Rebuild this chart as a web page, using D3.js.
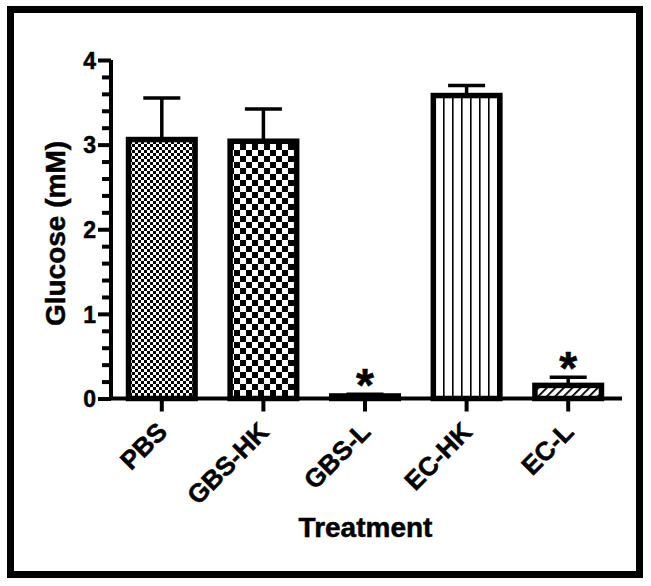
<!DOCTYPE html>
<html>
<head>
<meta charset="utf-8">
<script src="https://cdn.jsdelivr.net/npm/d3@7"></script>
<style>
  html, body { margin: 0; padding: 0; background: #fff; }
  svg { display: block; }
  text { font-family: Arial, "Liberation Sans", sans-serif; font-weight: bold; fill: #000; stroke: #000; stroke-width: 0.5px; }
</style>
</head>
<body>
<div id="chart"></div>
<script>
// ---- data ----
const categories = ["PBS", "GBS-HK", "GBS-L", "EC-HK", "EC-L"];
const means = [3.06, 3.04, 0.03, 3.58, 0.155];
const errors = [0.49, 0.38, 0.02, 0.12, 0.095];
const significant = [false, false, true, false, true];
const patterns = ["checkFine", "checkCoarse", "solid", "vlines", "diag"];
const yTicks = [0, 1, 2, 3, 4];
const yMinorTicks = [0.2, 0.4, 0.6, 0.8, 1.2, 1.4, 1.6, 1.8, 2.2, 2.4, 2.6, 2.8, 3.2, 3.4, 3.6, 3.8];
const yTitle = "Glucose (mM)";
const xTitle = "Treatment";

const W = 651, H = 586;
const svg = d3.select("#chart").append("svg").attr("width", W).attr("height", H);

// outer frame
svg.append("rect").attr("x", 10.5).attr("y", 9.5).attr("width", 629).attr("height", 565)
  .attr("fill", "#fff").attr("stroke", "#000").attr("stroke-width", 7);

// patterns
const defs = svg.append("defs");
const p1 = defs.append("pattern").attr("id", "checkFine").attr("patternUnits", "userSpaceOnUse")
  .attr("width", 6).attr("height", 6);
p1.append("rect").attr("width", 6).attr("height", 6).attr("fill", "#fff");
p1.append("rect").attr("width", 3).attr("height", 3).attr("fill", "#000");
p1.append("rect").attr("x", 3).attr("y", 3).attr("width", 3).attr("height", 3).attr("fill", "#000");

const p2 = defs.append("pattern").attr("id", "checkCoarse").attr("patternUnits", "userSpaceOnUse")
  .attr("width", 12).attr("height", 12);
p2.append("rect").attr("width", 12).attr("height", 12).attr("fill", "#fff");
p2.append("rect").attr("width", 6).attr("height", 6).attr("fill", "#000");
p2.append("rect").attr("x", 6).attr("y", 6).attr("width", 6).attr("height", 6).attr("fill", "#000");

const p3 = defs.append("pattern").attr("id", "vlines").attr("patternUnits", "userSpaceOnUse")
  .attr("x", 2).attr("width", 9).attr("height", 9);
p3.append("rect").attr("width", 9).attr("height", 9).attr("fill", "#fff");
p3.append("rect").attr("x", 0).attr("width", 1.6).attr("height", 9).attr("fill", "#000");

const p4 = defs.append("pattern").attr("id", "diag").attr("patternUnits", "userSpaceOnUse")
  .attr("width", 6).attr("height", 6).attr("patternTransform", "rotate(45)");
p4.append("rect").attr("width", 6).attr("height", 6).attr("fill", "#fff");
p4.append("rect").attr("width", 1.8).attr("height", 6).attr("fill", "#000");

const p5 = defs.append("pattern").attr("id", "solid").attr("patternUnits", "userSpaceOnUse")
  .attr("width", 4).attr("height", 4);
p5.append("rect").attr("width", 4).attr("height", 4).attr("fill", "#000");

// scales
const x = d3.scaleBand().domain(categories).range([111, 619]).paddingInner(0.345).paddingOuter(0.1725);
const y = d3.scaleLinear().domain([0, 4]).range([398.5, 60]);
const axisX0 = 111, axisX1 = 622;

// bars
const g = svg.append("g");
categories.forEach((c, i) => {
  const x0 = x(c), bw = x.bandwidth();
  const top = y(means[i]);
  const cx = x0 + bw / 2;
  const ye = y(means[i] + errors[i]);
  g.append("line").attr("x1", cx).attr("x2", cx).attr("y1", top).attr("y2", ye)
    .attr("stroke", "#000").attr("stroke-width", 3.5);
  g.append("line").attr("x1", cx - 18.5).attr("x2", cx + 18.5).attr("y1", ye).attr("y2", ye)
    .attr("stroke", "#000").attr("stroke-width", 3.5);
  g.append("rect").attr("x", x0).attr("y", top).attr("width", bw).attr("height", y(0) - top)
    .attr("fill", "url(#" + patterns[i] + ")").attr("stroke", "#000").attr("stroke-width", 5.5);
  if (significant[i]) {
    g.append("text").attr("x", cx).attr("y", ye + 7).attr("text-anchor", "middle")
      .attr("font-size", 46).text("*");
  }
});

// y axis
const yAxis = svg.append("g").attr("transform", `translate(${axisX0},0)`)
  .call(d3.axisLeft(y).tickValues(yTicks).tickFormat(d3.format("d")).tickSize(13).tickPadding(2));
yAxis.select(".domain").attr("stroke-width", 4).attr("d", `M0,${y(4)}V${y(0)}`);
yAxis.selectAll(".tick line").attr("stroke-width", 4);
yAxis.selectAll(".tick text").attr("font-size", 23).attr("dy", "0.36em");
const yMinor = svg.append("g").attr("transform", `translate(${axisX0},0)`)
  .call(d3.axisLeft(y).tickValues(yMinorTicks).tickSize(9).tickFormat(""));
yMinor.select(".domain").remove();
yMinor.selectAll(".tick line").attr("stroke-width", 4);

// x axis
const xAxis = svg.append("g").attr("transform", `translate(0,${y(0)})`)
  .call(d3.axisBottom(x).tickSize(13).tickSizeOuter(0));
xAxis.select(".domain").attr("stroke-width", 4).attr("d", `M${axisX0 - 2},0H${axisX1}`);
xAxis.selectAll(".tick line").attr("stroke-width", 4);
xAxis.selectAll(".tick text")
  .attr("font-size", 26)
  .attr("text-anchor", "end").attr("dy", 0).attr("y", 0)
  .attr("transform", "translate(7,35) rotate(-45)");

// titles
svg.append("text").attr("transform", `translate(65,233.5) rotate(-90)`).attr("text-anchor", "middle")
  .attr("font-size", 28).text(yTitle);
svg.append("text").attr("x", 365.5).attr("y", 537).attr("text-anchor", "middle")
  .attr("font-size", 28).text(xTitle);
</script>
</body>
</html>
